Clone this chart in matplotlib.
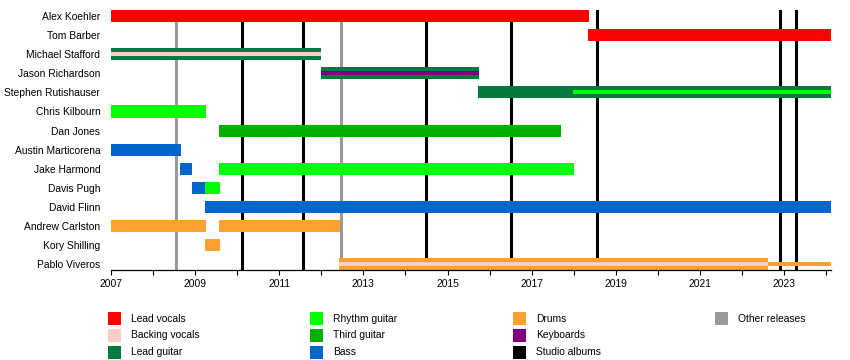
import matplotlib
matplotlib.use('Agg')
import matplotlib.pyplot as plt
from matplotlib.patches import Rectangle

plt.rcParams['font.family'] = ['Liberation Sans', 'DejaVu Sans']

END = 2024.1

members = ['Alex Koehler', 'Tom Barber', 'Michael Stafford', 'Jason Richardson',
           'Stephen Rutishauser', 'Chris Kilbourn', 'Dan Jones', 'Austin Marticorena',
           'Jake Harmond', 'Davis Pugh', 'David Flinn', 'Andrew Carlston',
           'Kory Shilling', 'Pablo Viveros']

# full-height bars: (member, start, end)
lead_vocals = [('Alex Koehler', 2007.0, 2018.36), ('Tom Barber', 2018.34, END)]
lead_guitar = [('Michael Stafford', 2007.0, 2012.0), ('Jason Richardson', 2012.0, 2015.75),
               ('Stephen Rutishauser', 2015.73, END)]
rhythm_guitar = [('Chris Kilbourn', 2007.0, 2009.26), ('Jake Harmond', 2009.57, 2018.0),
                 ('Davis Pugh', 2009.23, 2009.6)]
third_guitar = [('Dan Jones', 2009.57, 2017.69)]
bass = [('Austin Marticorena', 2007.0, 2008.67), ('Jake Harmond', 2008.65, 2008.93),
        ('Davis Pugh', 2008.93, 2009.23), ('David Flinn', 2009.23, END)]
drums = [('Andrew Carlston', 2007.0, 2009.26), ('Andrew Carlston', 2009.57, 2012.45),
         ('Kory Shilling', 2009.23, 2009.6), ('Pablo Viveros', 2012.42, 2022.62)]

# thin inner strips
backing_vocals = [('Michael Stafford', 2007.0, 2012.0), ('Pablo Viveros', 2012.42, 2022.62)]
keyboards = [('Jason Richardson', 2012.0, 2015.75)]
rhythm_inner = [('Stephen Rutishauser', 2017.98, END)]
drums_thin = [('Pablo Viveros', 2022.62, END)]

studio_albums = [2010.13, 2011.56, 2014.5, 2016.51, 2018.56, 2022.9, 2023.27]
other_releases = [2008.55, 2012.46]

colors = {
    'Lead vocals': '#FF0000', 'Backing vocals': '#FFCCCC', 'Lead guitar': '#037B3D',
    'Rhythm guitar': '#00FF00', 'Third guitar': '#00B000', 'Bass': '#0066CC',
    'Drums': '#FFA030', 'Keyboards': '#800080', 'Studio albums': '#000000',
    'Other releases': '#999999',
}

fig = plt.figure(figsize=(8.5, 3.6), dpi=100)
ax = fig.add_axes([110.7/850, 1-270/360, 720/850, 260/360])

row = {m: i for i, m in enumerate(members)}
H = 0.63   # full bar height in row units
h = 0.22   # inner strip height

for x in other_releases:
    ax.axvline(x, color=colors['Other releases'], lw=2.2, zorder=1)
for x in studio_albums:
    ax.axvline(x, color=colors['Studio albums'], lw=2.2, zorder=1)

def draw(segs, col, height):
    for m, a, b in segs:
        ax.barh(row[m], b - a, left=a, height=height, color=col, lw=0, zorder=2)

draw(lead_vocals, colors['Lead vocals'], H)
draw(lead_guitar, colors['Lead guitar'], H)
draw(rhythm_guitar, colors['Rhythm guitar'], H)
draw(third_guitar, colors['Third guitar'], H)
draw(bass, colors['Bass'], H)
draw(drums, colors['Drums'], H)
draw(backing_vocals, colors['Backing vocals'], h)
draw(keyboards, colors['Keyboards'], h)
draw(rhythm_inner, colors['Rhythm guitar'], h)
draw(drums_thin, colors['Drums'], h)

ax.set_xlim(2007, END)
ax.set_ylim(13.3, -0.314)
ax.set_yticks(range(len(members)))
ax.set_yticklabels(members, fontsize=7.4)
ax.tick_params(axis='y', length=0, pad=7.5)
ax.set_xticks(range(2007, 2024, 2))
ax.set_xticks(range(2007, 2025), minor=True)
ax.tick_params(axis='x', which='both', direction='out', length=3.5, width=0.8,
               labelsize=7.4, pad=3)
for s in ['top', 'right', 'left']:
    ax.spines[s].set_visible(False)
ax.spines['bottom'].set_linewidth(0.9)

# legend, column-major
legend_cols = [['Lead vocals', 'Backing vocals', 'Lead guitar'],
               ['Rhythm guitar', 'Third guitar', 'Bass'],
               ['Drums', 'Keyboards', 'Studio albums'],
               ['Other releases']]
col_x = [108, 310, 513, 715]
row_y = [318.5, 335, 352]
for cx, items in zip(col_x, legend_cols):
    for ry, name in zip(row_y, items):
        fig.add_artist(Rectangle((cx/850, 1-(ry+6.5)/360), 13/850, 13/360,
                                 transform=fig.transFigure, color=colors[name], lw=0))
        fig.text((cx+22.7)/850, 1-ry/360, name, fontsize=7.4, va='center', ha='left')

fig.savefig('out.png', dpi=100)
